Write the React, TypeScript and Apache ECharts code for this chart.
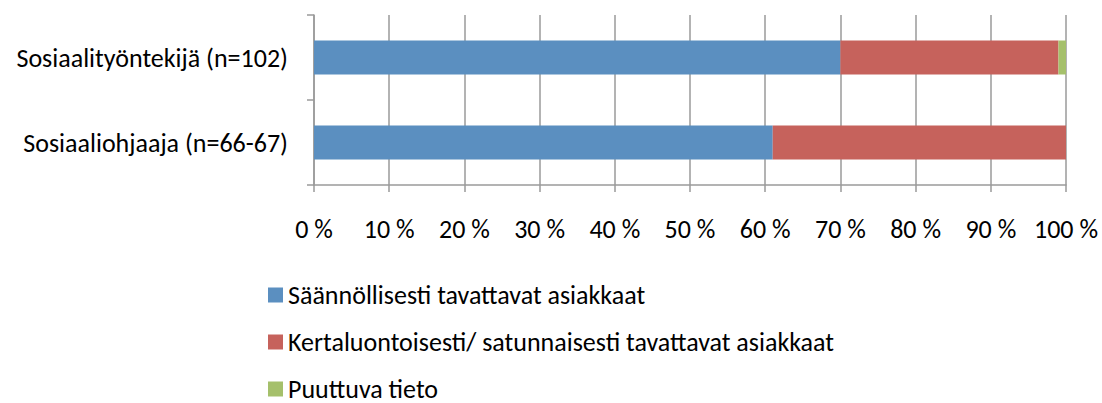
import React, { useEffect, useRef } from "react";
import * as echarts from "echarts";

const categories = ["Sosiaalityöntekijä (n=102)", "Sosiaaliohjaaja (n=66-67)"];
const seriesNames = [
  "Säännöllisesti tavattavat asiakkaat",
  "Kertaluontoisesti/ satunnaisesti tavattavat asiakkaat",
  "Puuttuva tieto",
];
const regular = [70, 61];
const occasional = [29, 39];
const missing = [1, 0];
const colors = ["#5B8FC0", "#C6625C", "#A5C06B"];
const xTicks = { min: 0, max: 100, interval: 10 };

const FONT = "Carlito, Lato, 'Liberation Sans', sans-serif";
const FS = 26;

export default function App() {
  const ref = useRef<HTMLDivElement>(null);
  useEffect(() => {
    if (!ref.current) return;
    const chart = echarts.init(ref.current, null, { renderer: "svg" });
    const values = [regular, occasional, missing];
    chart.setOption({
      animation: false,
      textStyle: { fontFamily: FONT },
      grid: { left: 314, right: 36, top: 15, bottom: 218, containLabel: false },
      xAxis: {
        type: "value",
        min: xTicks.min,
        max: xTicks.max,
        interval: xTicks.interval,
        axisLine: { show: true, lineStyle: { color: "#9a9a9a", width: 1.5 } },
        axisTick: { show: true, length: 7, lineStyle: { color: "#9a9a9a", width: 1.5 } },
        splitLine: { show: true, lineStyle: { color: "#9a9a9a", width: 1.5 } },
        axisLabel: {
          formatter: "{value} %",
          color: "#000",
          fontSize: FS,
          fontFamily: FONT,
          margin: 31,
        },
      },
      yAxis: {
        type: "category",
        inverse: true,
        data: categories,
        axisLine: { show: true, lineStyle: { color: "#9a9a9a", width: 1.5 } },
        axisTick: { show: true, length: 7, lineStyle: { color: "#9a9a9a", width: 1.5 } },
        axisLabel: { color: "#000", fontSize: FS, fontFamily: FONT, margin: 26 },
      },
      legend: {
        orient: "vertical",
        left: 268,
        top: 282,
        height: 121,
        icon: "rect",
        itemWidth: 15,
        itemHeight: 15,
        itemGap: 21,
        padding: 0,
        textStyle: { color: "#000", fontSize: 26, fontFamily: FONT, lineHeight: 26 },
        data: seriesNames,
      },
      series: seriesNames.map((name, i) => ({
        name,
        type: "bar",
        stack: "total",
        data: values[i],
        barWidth: 34,
        itemStyle: { color: colors[i] },
      })),
    });
    return () => chart.dispose();
  }, []);
  return (
    <div
      ref={ref}
      style={{ position: "fixed", left: 0, top: 0, width: 1102, height: 403, background: "#fff" }}
    />
  );
}
